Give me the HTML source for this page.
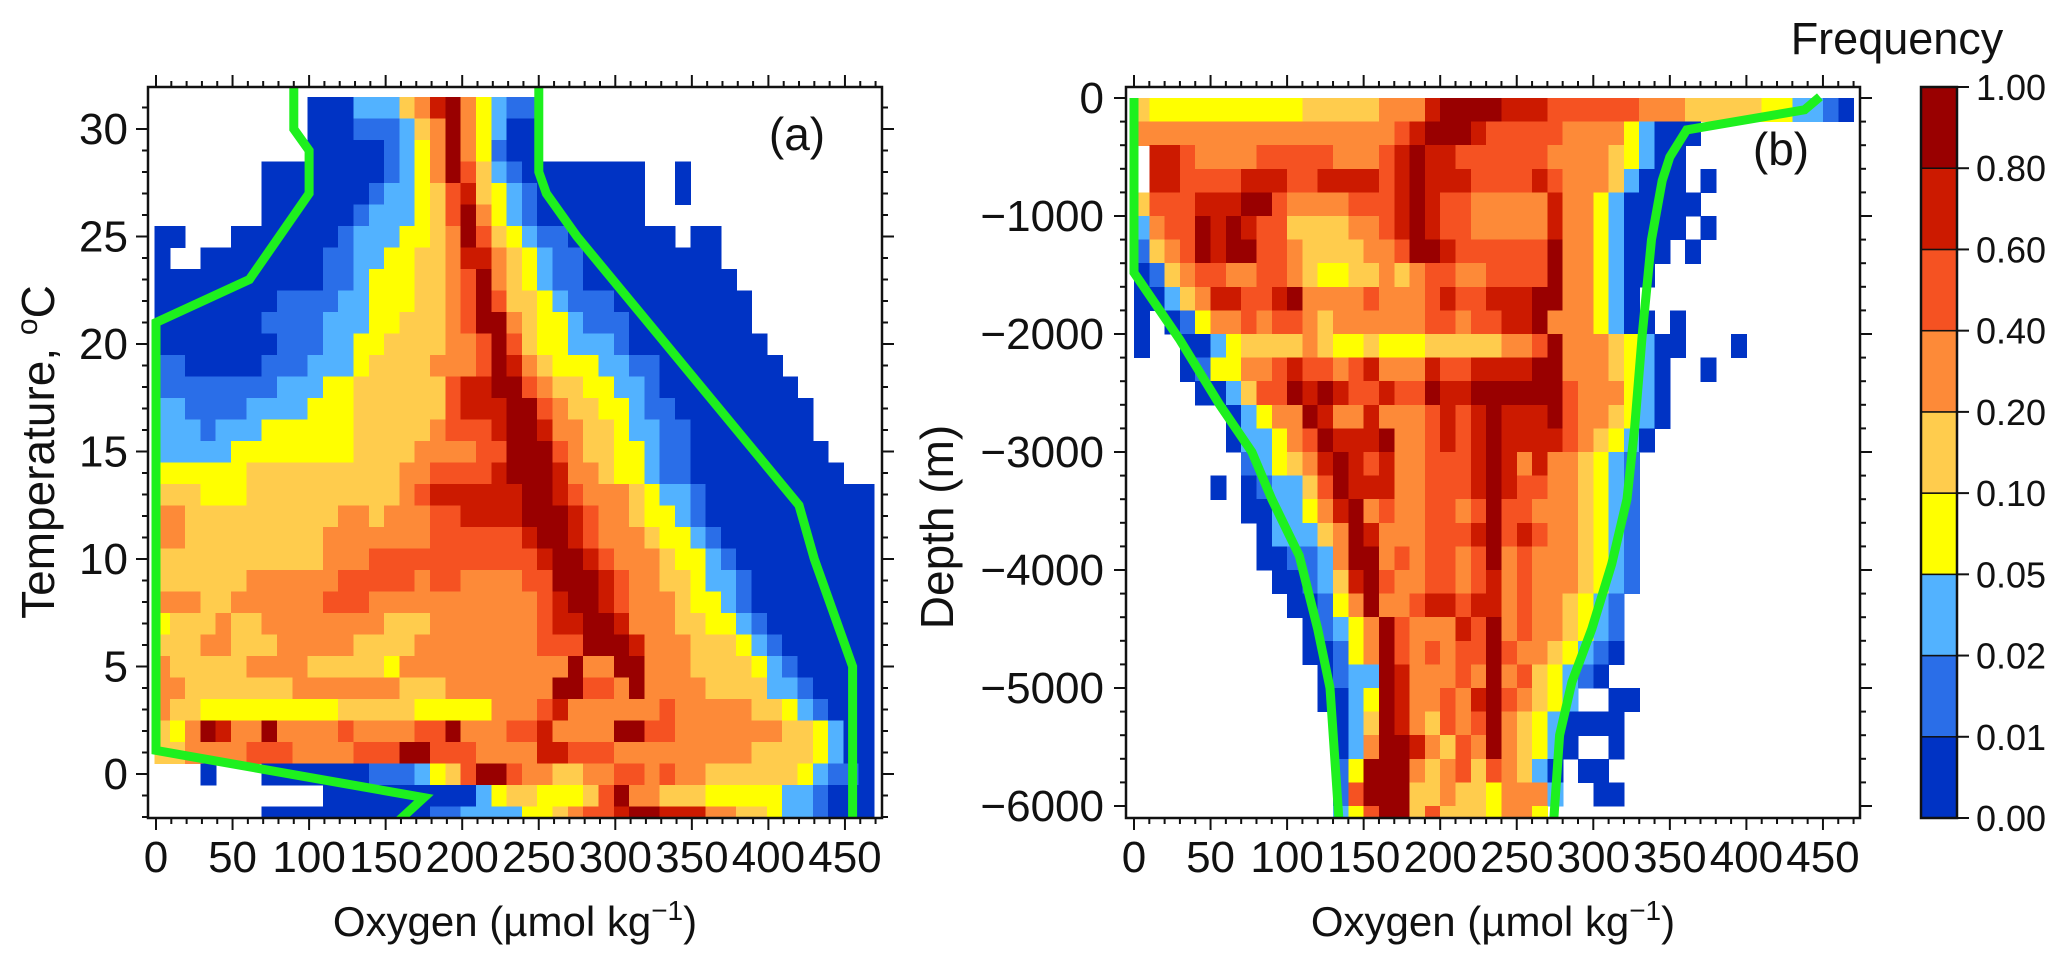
<!DOCTYPE html>
<html><head><meta charset="utf-8"><style>
html,body{margin:0;padding:0;background:#fff;}
svg{display:block;}
text{font-family:"Liberation Sans",sans-serif;fill:#111;}
</style></head><body>
<svg id="fig" width="2067" height="959" viewBox="0 0 2067 959" xmlns="http://www.w3.org/2000/svg">
<defs>
<clipPath id="clipA"><rect x="148" y="87" width="734" height="731"/></clipPath>
<clipPath id="clipB"><rect x="1126" y="87" width="734" height="731"/></clipPath>
</defs>
<g id="layer"></g>
</svg>
<script>
// ---- data ----
const levelColors = ["#0033c4","#2a6ee8","#52b2ff","#ffff00","#ffcc4d","#fd8a38","#f55222","#cc1a00","#990000"];
const levelLabels = ["0.00","0.01","0.02","0.05","0.10","0.20","0.40","0.60","0.80","1.00"];
const aTemps = [31,30,29,28,27,26,25,24,23,22,21,20,19,18,17,16,15,14,13,12,11,10,9,8,7,6,5,4,3,2,1,0,-1,-2];
const aRows = [
".10 03 23 41 51 71 81 51 31 21 12",
".10 03 13 21 41 51 81 51 31 21 02",
".10 05 11 21 31 51 81 51 31 11 02",
".7 08 11 21 31 51 81 61 41 21 11 08 .2 01",
".7 07 11 22 31 41 61 71 41 31 21 11 07 .2 01",
".7 06 11 23 31 41 61 81 51 31 21 11 07",
"02 .3 07 11 23 32 41 51 81 61 41 31 21 12 07 .1 02",
"01 .2 08 12 22 32 42 51 72 51 41 31 21 12 09",
"011 12 21 33 42 51 61 81 51 41 31 21 12 010",
"08 14 22 33 42 51 61 81 61 42 31 21 13 09",
"07 14 23 32 43 51 61 82 51 41 32 21 13 08",
"08 13 22 32 44 52 61 81 61 41 32 23 11 09",
"12 05 13 23 31 44 53 61 81 71 51 41 33 22 12 08",
"18 23 32 46 61 72 82 61 51 42 32 22 11 09",
"22 14 24 33 46 61 73 82 61 51 42 32 21 12 09",
"23 11 23 36 45 51 63 71 82 71 52 42 31 22 12 08",
"25 38 44 54 62 83 61 51 42 32 21 12 09",
"36 410 52 64 71 83 71 52 41 32 21 12 010",
"43 33 410 51 61 72 74 82 71 61 53 41 31 22 11 011",
"52 410 52 41 53 62 74 83 71 61 52 41 32 21 11 011",
"52 49 57 66 71 82 71 61 53 41 32 21 11 010",
"411 53 611 71 82 71 61 53 41 32 21 11 09",
"46 56 65 51 62 54 62 83 71 61 52 42 31 22 11 08",
"53 42 56 63 511 61 71 82 71 61 53 41 32 21 11 08",
"31 43 51 42 58 43 57 61 72 82 71 53 42 32 21 11 07",
"43 52 43 55 44 58 63 83 71 53 43 31 21 11 06",
"51 45 54 45 31 511 81 52 82 53 44 31 21 11 05",
"52 47 57 43 57 82 62 51 81 54 44 22 11 04",
"51 42 39 45 35 53 61 71 56 61 55 42 31 21 11 03",
"41 31 51 81 71 52 81 54 61 54 62 81 53 62 71 54 82 62 57 42 31 21 02",
"42 54 63 54 63 82 63 54 72 63 59 44 31 21 02",
".3 01 .3 07 13 21 31 41 61 82 61 52 42 52 62 51 61 52 46 31 21 12 01",
".11 010 21 31 42 33 41 61 81 52 43 35 22 11 03",
".7 011 12 24 32 41 51 62 71 82 73 52 42 31 22 11 03"
];
const bDepthTops = [0,-200,-400,-600,-800,-1000,-1200,-1400,-1600,-1800,-2000,-2200,-2400,-2600,-2800,-3000,-3200,-3400,-3600,-3800,-4000,-4200,-4400,-4600,-4800,-5000,-5200,-5400,-5600,-5800,-6000];
const bRows = [
"41 310 45 53 71 84 73 66 52 51 45 32 22 11 01",
"517 61 71 83 71 65 54 31 21 03",
".1 72 61 54 65 53 61 71 81 72 66 54 41 31 21 02",
".1 72 64 73 62 74 61 71 81 73 64 71 61 53 41 21 03 .1 01",
"41 63 73 82 61 54 63 71 81 71 62 55 71 52 31 21 05",
"21 51 62 81 71 81 71 62 44 52 61 71 81 71 62 55 71 52 31 21 04 .1 01",
"11 41 51 61 81 71 82 62 51 44 52 61 81 81 71 66 81 52 31 21 03 .1 01",
"01 11 41 51 62 52 62 51 41 32 42 51 41 51 62 52 64 81 52 31 21 02",
"02 21 41 51 72 62 71 81 54 61 53 61 71 62 73 82 52 31 21 01",
"01 .1 01 11 31 52 61 51 62 51 41 56 62 51 62 72 81 51 52 31 21 02 .1 01",
"01 .2 02 21 31 44 51 41 32 41 32 31 45 52 61 81 53 41 31 21 02 .3 01",
".3 01 11 32 52 61 71 62 51 61 71 52 51 71 62 74 82 53 41 31 21 01 .2 01",
".4 02 21 41 62 81 71 81 71 62 71 61 61 81 72 86 61 53 31 21 01",
".6 01 21 31 52 81 71 52 71 52 51 61 71 61 71 81 73 81 61 52 41 31 21 01",
".6 01 22 31 51 61 81 73 81 51 51 61 71 61 71 81 74 61 51 41 31 21 01",
".7 11 21 31 41 51 71 81 71 61 71 51 51 63 71 81 71 51 71 52 41 31 21 11",
".5 01 .1 01 11 22 41 61 81 73 51 51 63 71 81 71 62 52 41 31 21 11",
".7 02 22 31 51 71 81 51 61 51 51 62 51 61 81 62 53 41 31 21 11",
".8 01 23 41 51 81 71 52 51 63 71 81 61 71 61 52 41 31 21 11",
".8 02 12 21 51 82 51 61 51 62 51 61 81 51 61 53 41 31 21 11",
".9 02 11 21 41 71 81 61 51 51 62 51 61 71 51 61 53 41 31 21 11",
".10 02 11 31 51 81 51 51 61 72 61 72 51 61 52 41 31 21 11",
".11 01 11 21 31 51 81 61 51 52 71 61 81 51 61 52 41 31 21 11",
".11 02 11 31 51 81 61 51 61 51 62 81 61 52 41 31 21 11 01",
".12 01 11 22 81 71 51 52 61 51 81 51 61 41 31 21 11 01",
".12 02 21 31 81 71 51 51 61 51 71 81 61 51 41 31 21 .2 02",
".13 01 21 41 81 71 51 41 61 51 61 81 51 41 31 21 01 01 02",
".13 01 21 51 82 71 51 41 61 51 81 51 41 31 21 01 .2 01",
".13 11 31 83 51 41 51 61 41 61 51 41 21 01 .1 02",
".13 11 61 83 42 51 42 31 51 52 21 .2 02",
".13 21 31 61 82 41 61 43 31 52 31"
];
const aLowO2 = [90,90,100,100,61,0,0,175,152];
const aLowT  = [32.5,30,29,27,23,21,1.1,-1.1,-2.6];
const aHighO2 = [250,250,255,275,420,430,455,455];
const aHighT  = [32.5,28,27,25,12.5,10,5,-2.5];
const bLowO2 = [0,0,30,56,77,90,108,120,128,134];
const bLowD  = [0,-1480,-2050,-2600,-3000,-3400,-3880,-4500,-5000,-6150];
const bHighO2 = [448,438,361,350,345,338,332,327,322,312,299,286,278,274];
const bHighD  = [10,-100,-270,-500,-700,-1200,-2000,-2800,-3400,-3950,-4500,-4950,-5400,-6150];
const xTicks = [0,50,100,150,200,250,300,350,400,450];
const aYTicks = [0,5,10,15,20,25,30];
const bYTicks = [0,-1000,-2000,-3000,-4000,-5000,-6000];

// ---- scales ----
const xA = v => 156 + 1.531*v;
const yA = t => 774 - 21.5*t;
const xB = v => 1134 + 1.531*v;
const yB = d => 98 - 0.118*d;
const NS = "http://www.w3.org/2000/svg";
const layer = document.getElementById('layer');
function mk(tag, attrs, parent){ const e=document.createElementNS(NS,tag); for(const k in attrs) e.setAttribute(k,attrs[k]); (parent||layer).appendChild(e); return e; }
function decode(row){ const out=[]; row.trim().split(/\s+/).forEach(tok=>{ const c=tok[0]; const n=parseInt(tok.slice(1),10); for(let i=0;i<n;i++) out.push(c); }); return out; }

// ---- heatmap a ----
const gA = mk('g',{'clip-path':'url(#clipA)','shape-rendering':'crispEdges'});


aRows.forEach((row,ri)=>{
  const t = aTemps[ri];
  decode(row).forEach((c,ci)=>{
    if(c==='.') return;
    const x0=xA(ci*10-1), x1=xA(ci*10+9), y0=yA(t+0.5), y1=yA(t-0.5);
    const r = mk('rect',{x:x0,y:y0,width:x1-x0+0.6,height:y1-y0+0.6,fill:levelColors[+c]},gA);
    
    
  });
});
// ---- heatmap b ----
const gB = mk('g',{'clip-path':'url(#clipB)','shape-rendering':'crispEdges'});


bRows.forEach((row,ri)=>{
  const d = bDepthTops[ri];
  decode(row).forEach((c,ci)=>{
    if(c==='.') return;
    const x0=xB(ci*10), x1=xB(ci*10+10), y0=yB(d), y1=yB(d-200);
    const r = mk('rect',{x:x0,y:y0,width:x1-x0+0.6,height:y1-y0+0.6,fill:levelColors[+c]},gB);
    
    
  });
});

// ---- green lines ----
function line(xs,ys,fx,fy,clip,name){
  const pts = xs.map((v,i)=>fx(v).toFixed(1)+','+fy(ys[i]).toFixed(1)).join(' ');
  const p = mk('polyline',{points:pts,fill:'none',stroke:'#1ef01e','stroke-width':9,'stroke-linejoin':'miter','clip-path':clip});
  
  
}
line(aLowO2,aLowT,xA,yA,'url(#clipA)','min-oxygen-line-a');
line(aHighO2,aHighT,xA,yA,'url(#clipA)','max-oxygen-line-a');
line(bLowO2,bLowD,xB,yB,'url(#clipB)','min-oxygen-line-b');
line(bHighO2,bHighD,xB,yB,'url(#clipB)','max-oxygen-line-b');

// ---- axes ----
function frame(x0,name){
  const f = mk('rect',{x:x0,y:87,width:734,height:731,fill:'none',stroke:'#111','stroke-width':2.5});
  
  
}
frame(148,'plot-frame-a');
frame(1126,'plot-frame-b');
function tk(x1,y1,x2,y2){ mk('line',{x1:x1,y1:y1,x2:x2,y2:y2,stroke:'#111','stroke-width':2}); }
function txt(x,y,s,size,anchor,name){
  const t = mk('text',{x:x,y:y,'font-size':size,'text-anchor':anchor});
  t.textContent = s;
  
  
  return t;
}
// x ticks both panels
[[xA,'a'],[xB,'b']].forEach(([fx,p])=>{
  for(let v=0; v<=470; v+=10){
    const major = v%50===0, L = major?12:6, x=fx(v);
    tk(x,818,x,818+L); tk(x,87,x,87-L);
  }
  xTicks.forEach(v=>{ txt(fx(v), 872, String(v), 44, 'middle', 'x-tick-label-'+p); });
});
// y ticks a
for(let t=-2; t<=31; t++){
  const L = t%5===0?12:6, y=yA(t);
  tk(148,y,148-L,y); tk(882,y,882+L,y);
}
aYTicks.forEach(t=>{ txt(128, yA(t)+15, String(t), 44, 'end', 'y-tick-label-a'); });
// y ticks b
for(let d=0; d>=-6000; d-=200){
  const L = d%1000===0?12:6, y=yB(d);
  tk(1126,y,1126-L,y); tk(1860,y,1860+L,y);
}
bYTicks.forEach(d=>{ txt(1104, yB(d)+15, d===0?'0':'\u2212'+Math.abs(d), 44, 'end', 'y-tick-label-b'); });

// titles
function xTitle(cx,name){
  const t = mk('text',{x:cx,y:936,'font-size':42,'text-anchor':'middle'});
  
  
  t.appendChild(document.createTextNode('Oxygen (\u00b5mol kg'));
  const s = mk('tspan',{'font-size':28,dy:-16},t); s.textContent='\u22121';
  const s2 = mk('tspan',{'font-size':42,dy:16},t); s2.textContent=')';
}
xTitle(515,'x-axis-title-a');
xTitle(1493,'x-axis-title-b');
const yt = mk('text',{x:0,y:0,'font-size':46,'text-anchor':'middle',transform:'translate(54,452) rotate(-90)'});


yt.appendChild(document.createTextNode('Temperature, '));
const ys1 = mk('tspan',{'font-size':30,dy:-17},yt); ys1.textContent='o';
const ys2 = mk('tspan',{'font-size':46,dy:17},yt); ys2.textContent='C';
const yb = txt(0,0,'Depth (m)',46,'middle','y-axis-title-b');
yb.setAttribute('transform','translate(953,527) rotate(-90)');
txt(797,150,'(a)',46,'middle','panel-label-a');
txt(1781,165,'(b)',46,'middle','panel-label-b');

// ---- colorbar ----
const cbTop=87, cbBot=818, cbX=1921, cbW=36, n=levelColors.length, segH=(cbBot-cbTop)/n;
levelColors.forEach((col,i)=>{
  const y = cbBot-(i+1)*segH;
  const r = mk('rect',{x:cbX,y:y,width:cbW,height:segH,fill:col,stroke:'#111','stroke-width':1.5});
  
  
});
const cbf = mk('rect',{x:cbX,y:cbTop,width:cbW,height:cbBot-cbTop,fill:'none',stroke:'#111','stroke-width':2.5});


levelLabels.forEach((lab,i)=>{
  const y = cbBot - i*segH;
  tk(cbX+cbW,y,cbX+cbW+12,y);
  txt(1976, y+13, lab, 36, 'start', 'colorbar-tick-label');
});
txt(1897,54,'Frequency',45,'middle','colorbar-title');
</script>
</body></html>
